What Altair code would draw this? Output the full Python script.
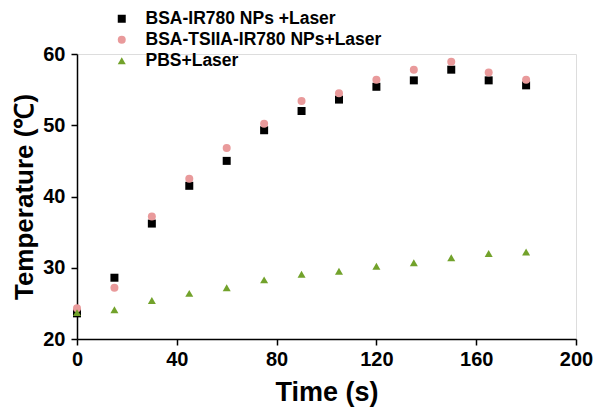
import altair as alt
import pandas as pd

time_s = [0, 15, 30, 45, 60, 75, 90, 105, 120, 135, 150, 165, 180]
bsa_ir780 = [23.6, 28.6, 36.2, 41.5, 45.0, 49.3, 52.0, 53.6, 55.4, 56.3, 57.8, 56.3, 55.6]
bsa_tsiia_ir780 = [24.3, 27.2, 37.2, 42.5, 46.8, 50.2, 53.4, 54.5, 56.4, 57.8, 58.9, 57.4, 56.4]
pbs = [23.7, 24.1, 25.4, 26.4, 27.2, 28.3, 29.1, 29.5, 30.2, 30.7, 31.4, 32.0, 32.2]

series_names = ["BSA-IR780 NPs +Laser", "BSA-TSIIA-IR780 NPs+Laser", "\u00a0PBS+Laser"]
series_colors = ["#000000", "#E99A9B", "#72A22B"]
series_shapes = ["square", "circle", "triangle-up"]
series_sizes = [64, 64, 115]

rows = []
for name, vals in zip(series_names, [bsa_ir780, bsa_tsiia_ir780, pbs]):
    for t, v in zip(time_s, vals):
        rows.append({"Time": t, "Temperature": v, "Series": name})
df = pd.DataFrame(rows)

font = "Liberation Sans"

chart = alt.Chart(df).mark_point(filled=True, opacity=1).encode(
    x=alt.X("Time:Q",
            scale=alt.Scale(domain=[0, 200], nice=False, zero=False),
            axis=alt.Axis(title="Time (s)", values=[0, 40, 80, 120, 160, 200],
                          grid=False, domainColor="black", domainWidth=1.5,
                          tickColor="black", tickWidth=1.5, tickSize=6,
                          labelFlush=False,
                          labelFont=font, labelFontSize=20, labelFontWeight="bold",
                          labelColor="black", labelPadding=4,
                          titleFont=font, titleFontSize=27, titleFontWeight="bold",
                          titleColor="black", titlePadding=10)),
    y=alt.Y("Temperature:Q",
            scale=alt.Scale(domain=[20, 60], nice=False, zero=False),
            axis=alt.Axis(title="Temperature (℃)", values=[20, 30, 40, 50, 60],
                          grid=False, domainColor="black", domainWidth=1.5,
                          tickColor="black", tickWidth=1.5, tickSize=6,
                          labelFlush=False,
                          labelFont=font, labelFontSize=20, labelFontWeight="bold",
                          labelColor="black", labelPadding=6,
                          titleFont=font, titleFontSize=26, titleFontWeight="bold",
                          titleColor="black", titlePadding=5)),
    color=alt.Color("Series:N",
                    scale=alt.Scale(domain=series_names, range=series_colors),
                    legend=alt.Legend(title=None, orient="none", legendX=36, legendY=-44,
                                      padding=0, rowPadding=2, labelOffset=15,
                                      labelFont=font, labelFontSize=17.5,
                                      labelFontWeight="bold", labelColor="black",
                                      symbolSize=64, symbolStrokeWidth=0,
                                      labelLimit=400)),
    shape=alt.Shape("Series:N",
                    scale=alt.Scale(domain=series_names, range=series_shapes),
                    legend=None),
    size=alt.Size("Series:N",
                  scale=alt.Scale(domain=series_names, range=series_sizes),
                  legend=None),
).properties(
    width=499, height=285,
    autosize=alt.AutoSizeParams(type="none"),
    padding={"left": 69, "top": 46, "right": 17, "bottom": 71},
).configure_view(stroke=None).configure(background="white")

chart.save("out.html", embed_options={"renderer": "svg", "actions": False})
